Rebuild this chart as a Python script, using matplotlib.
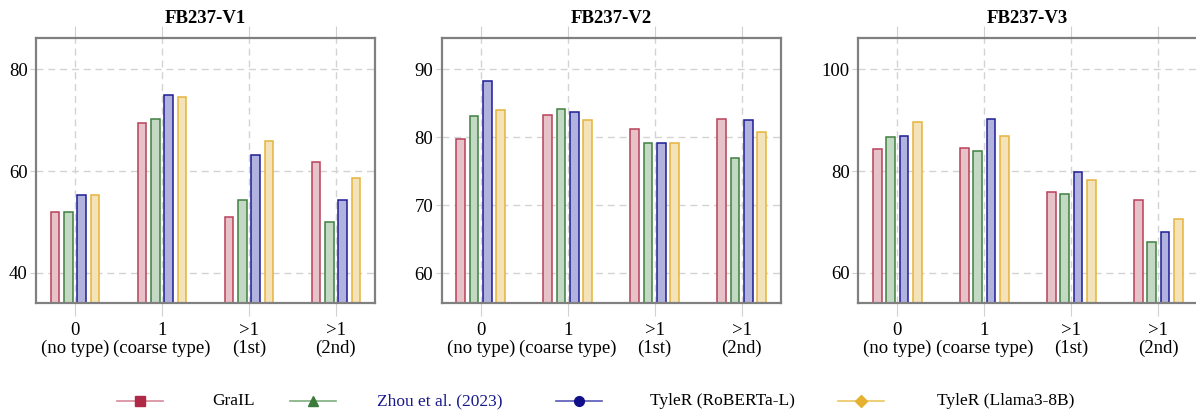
import numpy as np
import matplotlib.pyplot as plt
from matplotlib.lines import Line2D

plt.rcParams['font.family'] = ['Liberation Serif', 'DejaVu Serif']

groups = ['0\n(no type)', '1\n(coarse type)', '>1\n(1st)', '>1\n(2nd)']
methods = ['GraIL', 'Zhou et al. (2023)', 'TyleR (RoBERTa-L)', 'TyleR (Llama3-8B)']
titles = ['FB237-V1', 'FB237-V2', 'FB237-V3']

# rows: GraIL, Zhou, TyleR RoBERTa, TyleR Llama
v1 = [[52.0, 69.5, 50.9, 61.8],
      [52.0, 70.2, 54.3, 50.0],
      [55.2, 75.0, 63.1, 54.4],
      [55.2, 74.6, 65.9, 58.7]]
v2 = [[79.7, 83.3, 81.2, 82.7],
      [83.1, 84.1, 79.2, 76.9],
      [88.3, 83.7, 79.2, 82.6],
      [84.0, 82.6, 79.1, 80.8]]
v3 = [[84.4, 84.6, 75.9, 74.3],
      [86.6, 83.9, 75.4, 66.1],
      [86.9, 90.2, 79.8, 68.0],
      [89.7, 86.9, 78.2, 70.5]]
data = [v1, v2, v3]
ylims = [(34.1, 86.1), (55.6, 94.6), (54.1, 106.1)]
yticks = [[40, 60, 80], [60, 70, 80, 90], [60, 80, 100]]

edge_cols = ['#b8405a', '#3f7f3f', '#1c1c96', '#e6b43c']
fill_cols = ['#e8c2c9', '#c4d9c4', '#b2b2de', '#f4e3b8']
legend_cols = ['#b02a48', '#3a7a3a', '#10108a', '#e6b030']
line_cols = ['#d88a9a', '#7fae7f', '#5858b8', '#ecc660']
markers = ['s', '^', 'o', 'D']
msizes = [7.5, 6.5, 7, 6]

offsets = [-0.23, -0.0767, 0.0767, 0.23]
width = 0.1
x = np.arange(len(groups))

fig = plt.figure(figsize=(11.96, 4.12), dpi=100)
lefts = [36, 441.7, 858.3]
W, H = 1196.0, 412.0

for i in range(3):
    ax = fig.add_axes([lefts[i] / W, (H - 303) / H, 339 / W, 265 / H])
    for j in range(4):
        ax.bar(x + offsets[j], data[i][j], width, color=fill_cols[j],
               edgecolor=edge_cols[j], linewidth=1.1, zorder=3)
    ax.set_xlim(-0.45, 3.45)
    ax.set_ylim(*ylims[i])
    ax.set_yticks(yticks[i])
    ax.set_xticks(x)
    ax.set_xticklabels(groups, fontsize=13.5, linespacing=1.05)
    ax.tick_params(axis='y', labelsize=13.5, length=4, color='#d0d0d0', pad=2)
    ax.tick_params(axis='x', length=9, color='#d0d0d0', pad=5, top=True)
    ax.grid(True, color='#d3d3d3', linestyle=(0, (5, 3.5)), linewidth=1.0)
    ax.set_axisbelow(True)
    for s in ax.spines.values():
        s.set_color('#808080')
        s.set_linewidth(1.6)
        s.set_zorder(4)
    ax.set_title(titles[i], fontsize=13.5, fontweight='bold', pad=11)

# legend at the bottom, drawn by hand to match the spaced layout
handle_x = [117, 290, 556, 838]
text_x = [212, 377, 650, 937]
ly = 1 - 401 / H
text_colors = ['black', '#1a1a8c', 'black', 'black']
for j in range(4):
    fig.add_artist(Line2D([handle_x[j] / W, (handle_x[j] + 46) / W], [ly, ly],
                          transform=fig.transFigure, color=line_cols[j], linewidth=1.2))
    fig.add_artist(Line2D([(handle_x[j] + 23) / W], [ly], transform=fig.transFigure,
                          marker=markers[j], markersize=msizes[j], color=legend_cols[j],
                          markeredgecolor=legend_cols[j], linestyle='none'))
    fig.text(text_x[j] / W, ly, methods[j], fontsize=12.5, color=text_colors[j],
             va='center', ha='left')

fig.savefig('out.png', dpi=100)
